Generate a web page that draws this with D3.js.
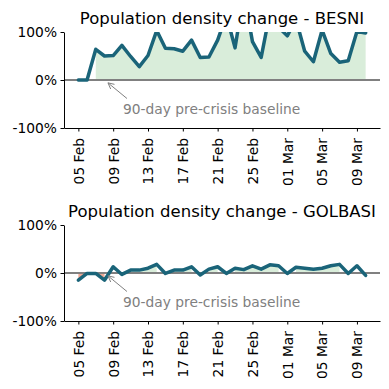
<!DOCTYPE html>
<html>
<head>
<meta charset="utf-8">
<script src="https://cdn.jsdelivr.net/npm/d3@7"></script>
<style>
  body { margin: 0; background: #fff; }
  svg { display: block; font-family: "DejaVu Sans", sans-serif; }
</style>
</head>
<body>
<script>
// Chart data
//= ================================
let startDay = new Date(2023, 1, 5);
let endDay = new Date(2023, 2, 10);
let days = d3.timeDay.range(startDay, d3.timeDay.offset(endDay, 1));

let besniValues = [0, 0, 64, 50, 51, 72, 49, 28, 51, 103, 66, 65, 60, 83, 47, 48,
  83, 135, 67, 180, 80, 47, 140, 110, 92, 126, 60, 38, 104, 55, 37, 40, 101, 98];
let golbasiValues = [-15, -1, -1, -15, 13, -3, 6, 6, 10, 18, -1, 6, 6, 13, -4, 8,
  13, -1, 10, 7, 15, 8, 17, 15, -1, 12, 10, 8, 10, 15, 18, -1, 15, -5];

let tickDates = ['2023-02-05', '2023-02-09', '2023-02-13', '2023-02-17', '2023-02-21',
  '2023-02-25', '2023-03-01', '2023-03-05', '2023-03-09'];
let yTicks = [-100, 0, 100];
let panels = [
  { title: 'Population density change - BESNI', values: besniValues },
  { title: 'Population density change - GOLBASI', values: golbasiValues }
];
let annotationText = '90-day pre-crisis baseline';
let annotationDay = new Date(2023, 1, 8);

// Set up our chart
//= ================================
let svgWidth = 389;
let svgHeight = 389;
let margin = { left: 64, right: 9 };
let width = svgWidth - margin.left - margin.right;
let panelTops = [32, 225];
let panelHeight = 96;

let lineColor = '#1a6479';
let greenFill = 'rgb(217,237,218)';
let redFill = 'rgb(240,170,150)';
let grey = '#808080';
let tickFont = '13.8px';

let svg = d3.select('body')
  .append('svg')
  .attr('width', svgWidth)
  .attr('height', svgHeight);

// x scale with matplotlib-like 5% padding
let pad = (endDay - startDay) * 0.05;
let xScale = d3.scaleTime()
  .domain([new Date(+startDay - pad), new Date(+endDay + pad)])
  .range([0, width]);

let parseDay = d3.timeParse('%Y-%m-%d');

panels.forEach(function(panel, i) {
  let g = svg.append('g')
    .attr('transform', `translate(${margin.left}, ${panelTops[i]})`);

  let yScale = d3.scaleLinear()
    .domain([-100, 100])
    .range([panelHeight, 0]);

  let data = days.map((d, j) => ({ date: d, v: panel.values[j] }));

  // clip to the axes area
  let clipId = 'clip' + i;
  g.append('clipPath').attr('id', clipId)
    .append('rect')
    .attr('width', width)
    .attr('height', panelHeight);

  let plot = g.append('g').attr('clip-path', `url(#${clipId})`);

  // fill_between where > 0 and where < 0
  let area = d3.area()
    .x(d => xScale(d.date))
    .y0(yScale(0))
    .y1(d => yScale(d.v));

  plot.append('path')
    .datum(data)
    .attr('fill', greenFill)
    .attr('d', area.defined(d => d.v > 0));

  plot.append('path')
    .datum(data)
    .attr('fill', redFill)
    .attr('d', area.defined(d => d.v < 0));

  // baseline
  plot.append('line')
    .attr('x1', 0)
    .attr('x2', width)
    .attr('y1', yScale(0))
    .attr('y2', yScale(0))
    .attr('stroke', grey)
    .attr('stroke-width', 2);

  // main line
  plot.append('path')
    .datum(data)
    .attr('fill', 'none')
    .attr('stroke', lineColor)
    .attr('stroke-width', 3.5)
    .attr('stroke-linejoin', 'round')
    .attr('stroke-linecap', 'round')
    .attr('d', d3.line().x(d => xScale(d.date)).y(d => yScale(d.v)));

  // Axes
  let bottomAxis = d3.axisBottom(xScale)
    .tickValues(tickDates.map(parseDay))
    .tickFormat(d3.timeFormat('%d %b'))
    .tickSize(3.5)
    .tickSizeOuter(0);
  let leftAxis = d3.axisLeft(yScale)
    .tickValues(yTicks)
    .tickFormat(d => d + '%')
    .tickSize(3.5)
    .tickPadding(3.5)
    .tickSizeOuter(0);

  let xAxisG = g.append('g')
    .attr('transform', `translate(0, ${panelHeight})`)
    .call(bottomAxis);
  xAxisG.selectAll('text')
    .attr('transform', 'rotate(-90)')
    .attr('text-anchor', 'end')
    .attr('x', -10)
    .attr('y', 0)
    .attr('dy', '0.35em');

  let yAxisG = g.append('g').call(leftAxis);

  [xAxisG, yAxisG].forEach(function(ax) {
    ax.selectAll('text')
      .attr('font-family', '"DejaVu Sans", sans-serif')
      .attr('font-size', tickFont)
      .attr('fill', '#000');
    ax.selectAll('line').attr('stroke', '#000').attr('stroke-width', 1);
    ax.select('.domain').attr('stroke', '#000').attr('stroke-width', 1);
  });

  // title
  g.append('text')
    .attr('x', width / 2)
    .attr('y', -8.5)
    .attr('text-anchor', 'middle')
    .attr('font-size', '16.5px')
    .attr('fill', '#000')
    .text(panel.title);

  // annotation with arrow
  let ax0 = xScale(annotationDay);
  let ay0 = yScale(0);
  let tail = [ax0 + 22.5, ay0 + 18.5];
  let dx = ax0 - tail[0], dy = ay0 - tail[1];
  let len = Math.sqrt(dx * dx + dy * dy);
  let ux = dx / len, uy = dy / len;
  let tip = [ax0 - ux * 4.5, ay0 - uy * 4.5];
  let headLen = 6, headW = 3;

  g.append('line')
    .attr('x1', tail[0]).attr('y1', tail[1])
    .attr('x2', tip[0]).attr('y2', tip[1])
    .attr('stroke', grey)
    .attr('stroke-width', 1);
  g.append('path')
    .attr('d', `M${tip[0] - ux * headLen - uy * headW},${tip[1] - uy * headLen + ux * headW}` +
      `L${tip[0]},${tip[1]}` +
      `L${tip[0] - ux * headLen + uy * headW},${tip[1] - uy * headLen - ux * headW}`)
    .attr('fill', 'none')
    .attr('stroke', grey)
    .attr('stroke-width', 1);

  g.append('text')
    .attr('x', ax0 + 18.5)
    .attr('y', ay0 + 34)
    .attr('font-size', tickFont)
    .attr('fill', grey)
    .text(annotationText);
});
</script>
</body>
</html>
